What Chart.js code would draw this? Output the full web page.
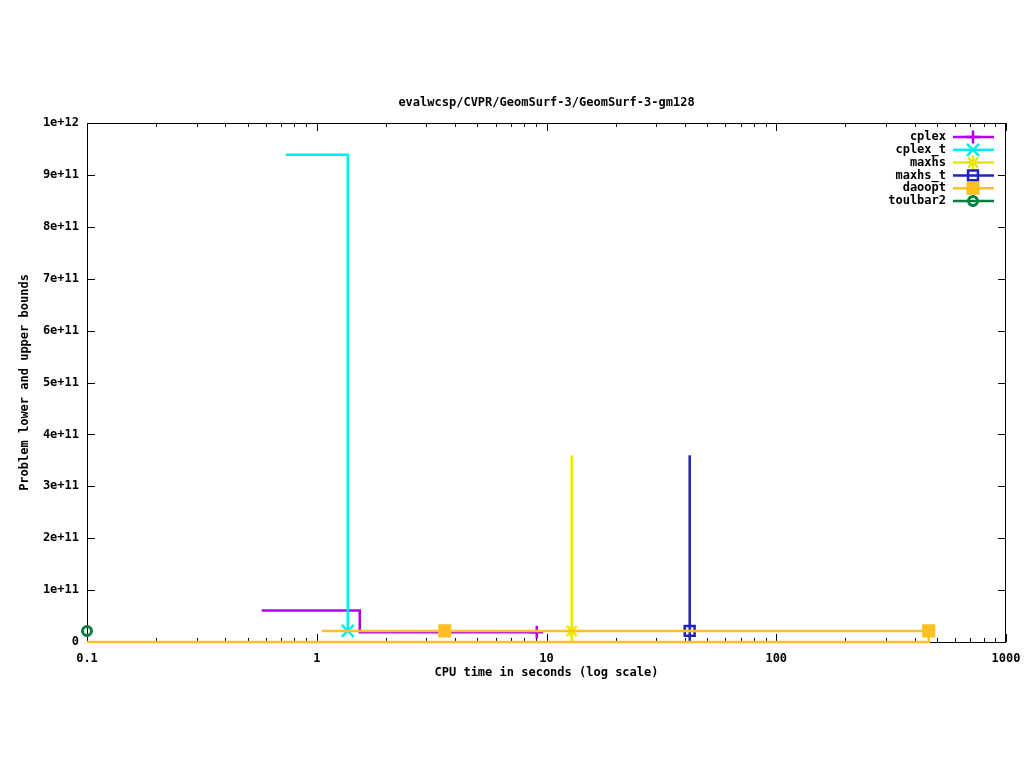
<!DOCTYPE html>
<html>
<head>
<meta charset="utf-8">
<script src="https://cdn.jsdelivr.net/npm/chart.js"></script>
<style>
  body { margin: 0; background: #fff; }
  #wrap { width: 1024px; height: 768px; }
</style>
</head>
<body>
<div id="wrap"><canvas id="chart" width="1024" height="768"></canvas></div>
<script>
// =====================
// DATA
// =====================
const chartTitle = "evalwcsp/CVPR/GeomSurf-3/GeomSurf-3-gm128";
const xTitle = "CPU time in seconds (log scale)";
const yTitle = "Problem lower and upper bounds";

const xTicks = [0.1, 1, 10, 100, 1000];
const yTicks = [0, 1e11, 2e11, 3e11, 4e11, 5e11, 6e11, 7e11, 8e11, 9e11, 1e12];

const seriesNames = ["cplex", "cplex_t", "maxhs", "maxhs_t", "daoopt", "toulbar2"];

// bound traces (time, value)
const cplexTimes = [0.576, 1.539, 1.539, 9.07];
const cplexBounds = [6.06e10, 6.06e10, 1.87e10, 1.87e10];
const cplexTTimes = [0.733, 1.364, 1.364];
const cplexTBounds = [9.39e11, 9.39e11, 2.14e10];
const maxhsTimes = [12.88, 12.88];
const maxhsBounds = [3.6e11, 0];
const maxhsTTimes = [42.0, 42.0];
const maxhsTBounds = [3.6e11, 0];
const daooptTimes = [1.051, 461, 461, 0.1];
const daooptBounds = [2.14e10, 2.14e10, 0, 0];
const toulbar2Times = [];
const toulbar2Bounds = [];

// marked points
const cplexMarkTimes = [9.07];
const cplexMarkBounds = [1.87e10];
const cplexTMarkTimes = [1.364];
const cplexTMarkBounds = [2.14e10];
const maxhsMarkTimes = [12.88];
const maxhsMarkBounds = [2.14e10];
const maxhsTMarkTimes = [42.0];
const maxhsTMarkBounds = [2.14e10];
const daooptMarkTimes = [3.607, 461];
const daooptMarkBounds = [2.14e10, 2.14e10];
const toulbar2MarkTimes = [0.1];
const toulbar2MarkBounds = [2.14e10];

// =====================
// STYLE
// =====================
const FONT = '"DejaVu Sans Mono", "Liberation Mono", monospace';
const colors = ["#b000f0", "#00eeee", "#e8e800", "#2222c0", "#ffc020", "#008040"];
const markers = [
  { style: "cross", radius: 6.5, fill: false },
  { style: "crossRot", radius: 8.5, fill: false },
  { style: "star", radius: 7, fill: false },
  { style: "rect", radius: 7, fill: false },
  { style: "rect", radius: 7.5, fill: true },
  { style: "circle", radius: 4.5, fill: false }
];

const lineData = [
  [cplexTimes, cplexBounds],
  [cplexTTimes, cplexTBounds],
  [maxhsTimes, maxhsBounds],
  [maxhsTTimes, maxhsTBounds],
  [daooptTimes, daooptBounds],
  [toulbar2Times, toulbar2Bounds]
];
const markData = [
  [cplexMarkTimes, cplexMarkBounds],
  [cplexTMarkTimes, cplexTMarkBounds],
  [maxhsMarkTimes, maxhsMarkBounds],
  [maxhsTMarkTimes, maxhsTMarkBounds],
  [daooptMarkTimes, daooptMarkBounds],
  [toulbar2MarkTimes, toulbar2MarkBounds]
];

function pts(ts, vs) {
  return ts.map((t, i) => ({ x: t, y: vs[i] }));
}

// later series are drawn on top (lower order = drawn last)
const datasets = [];
seriesNames.forEach((name, i) => {
  const c = colors[i];
  const m = markers[i];
  datasets.push({
    label: name,
    data: pts(lineData[i][0], lineData[i][1]),
    borderColor: c,
    borderWidth: 2.5,
    pointRadius: 0,
    fill: false,
    tension: 0,
    clip: false,
    order: 100 - 2 * i
  });
  datasets.push({
    label: name + " marks",
    data: pts(markData[i][0], markData[i][1]),
    showLine: false,
    pointStyle: m.style,
    pointRadius: m.radius,
    pointBorderWidth: m.style === "circle" ? 3 : 2.5,
    pointBorderColor: c,
    pointBackgroundColor: m.fill ? c : "transparent",
    clip: false,
    order: 99 - 2 * i
  });
});

// =====================
// PLUGIN: frame, tics, titles, key
// =====================
function drawMarker(ctx, m, color, x, y) {
  ctx.save();
  ctx.strokeStyle = color;
  ctx.fillStyle = m.fill ? color : "rgba(0,0,0,0)";
  ctx.lineWidth = m.style === "circle" ? 3 : 2.5;
  if (Chart.helpers && Chart.helpers.drawPoint) {
    Chart.helpers.drawPoint(ctx, {
      pointStyle: m.style, radius: m.radius, rotation: 0,
      borderWidth: ctx.lineWidth
    }, x, y);
  }
  ctx.restore();
}

const gnuplotLook = {
  id: "gnuplotLook",
  beforeDatasetsDraw(chart) {
    const { ctx, chartArea: a, scales } = chart;
    ctx.save();
    ctx.strokeStyle = "#000";
    ctx.lineWidth = 1;
    ctx.strokeRect(a.left + 0.5, a.top + 0.5, a.right - a.left - 1, a.bottom - a.top);

    ctx.beginPath();
    // y tics, both sides
    yTicks.forEach(v => {
      const y = Math.round(scales.y.getPixelForValue(v)) + 0.5;
      ctx.moveTo(a.left, y); ctx.lineTo(a.left + 8, y);
      ctx.moveTo(a.right, y); ctx.lineTo(a.right - 8, y);
    });
    // x tics (major + minor), bottom and top
    for (let d = 0; d < xTicks.length; d++) {
      const base = xTicks[d];
      for (let k = 1; k <= 9; k++) {
        if (d === xTicks.length - 1 && k > 1) break;
        const x = Math.round(scales.x.getPixelForValue(base * k)) + 0.5;
        const len = k === 1 ? 8 : 4;
        ctx.moveTo(x, a.bottom); ctx.lineTo(x, a.bottom - len);
        ctx.moveTo(x, a.top); ctx.lineTo(x, a.top + len);
      }
    }
    ctx.stroke();
    ctx.restore();
  },
  afterDraw(chart) {
    const { ctx, chartArea: a } = chart;
    const cx = (a.left + a.right) / 2;
    ctx.save();
    ctx.fillStyle = "#000";
    ctx.font = "bold 12px " + FONT;
    ctx.textBaseline = "middle";
    ctx.textAlign = "center";
    ctx.fillText(chartTitle, cx, 103);
    ctx.fillText(xTitle, cx, 673);

    ctx.save();
    ctx.translate(25, (a.top + a.bottom) / 2);
    ctx.rotate(-Math.PI / 2);
    ctx.fillText(yTitle, 0, 0);
    ctx.restore();

    // key, top right
    ctx.textAlign = "right";
    seriesNames.forEach((name, i) => {
      const y = 137 + i * 12.8;
      ctx.fillStyle = "#000";
      ctx.fillText(name, 946, y);
      ctx.strokeStyle = colors[i];
      ctx.lineWidth = 2.5;
      ctx.beginPath();
      ctx.moveTo(953, y);
      ctx.lineTo(994, y);
      ctx.stroke();
      drawMarker(ctx, markers[i], colors[i], 973, y);
    });
    ctx.restore();
  }
};

// =====================
// CHART
// =====================
new Chart(document.getElementById("chart"), {
  type: "line",
  data: { datasets: datasets },
  plugins: [gnuplotLook],
  options: {
    responsive: false,
    animation: false,
    events: [],
    layout: { padding: { top: 123, right: 18, bottom: 96, left: 0 } },
    plugins: {
      legend: { display: false },
      title: { display: false },
      tooltip: { enabled: false }
    },
    scales: {
      x: {
        type: "logarithmic",
        min: 0.1,
        max: 1000,
        border: { display: false },
        grid: { display: false, drawTicks: false },
        afterBuildTicks: s => { s.ticks = xTicks.map(v => ({ value: v })); },
        afterFit: s => { s.height = 30; s.paddingLeft = 0; s.paddingRight = 0; },
        ticks: {
          autoSkip: false,
          maxRotation: 0,
          padding: 10,
          color: "#000",
          font: { family: FONT, size: 12, weight: "bold" },
          callback: v => String(v)
        }
      },
      y: {
        type: "linear",
        min: 0,
        max: 1e12,
        border: { display: false },
        grid: { display: false, drawTicks: false },
        afterBuildTicks: s => { s.ticks = yTicks.map(v => ({ value: v })); },
        afterFit: s => { s.width = 87; s.paddingTop = 0; s.paddingBottom = 0; },
        ticks: {
          autoSkip: false,
          padding: 8,
          color: "#000",
          font: { family: FONT, size: 12, weight: "bold" },
          callback: v => (v === 0 ? "0" : Number(v).toExponential(0))
        }
      }
    }
  }
});
</script>
</body>
</html>
